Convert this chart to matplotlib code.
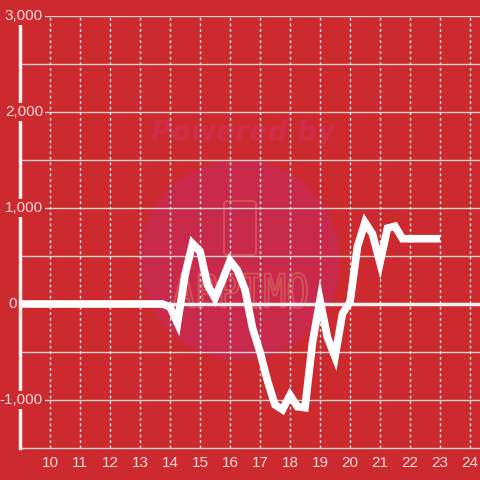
import matplotlib
matplotlib.use("Agg")
import matplotlib.pyplot as plt
from matplotlib.patches import Circle, FancyBboxPatch, PathPatch
from matplotlib.textpath import TextPath
from matplotlib.font_manager import FontProperties
from matplotlib.transforms import Affine2D

# Data
hours = [9.0, 13.75, 14.0, 14.25, 14.5, 14.75, 15.0, 15.25, 15.5, 15.75, 16.0,
         16.25, 16.5, 16.75, 17.0, 17.25, 17.5, 17.75, 18.0, 18.25, 18.5,
         18.75, 19.0, 19.25, 19.5, 19.75, 20.0, 20.25, 20.5, 20.75, 21.0,
         21.25, 21.5, 21.75, 22.0, 23.0]
values = [0, 0, -30, -200, 300, 630, 550, 200, 60, 250, 450,
          350, 150, -250, -500, -800, -1050, -1100, -950, -1070, -1080,
          -400, 40, -350, -550, -100, 20, 600, 850, 730, 430,
          790, 810, 680, 680, 680]
x_ticks = list(range(10, 25))
y_ticks = [-1000, 0, 1000, 2000, 3000]
y_tick_labels = ["-1,000", "0", "1,000", "2,000", "3,000"]
y_grid = [-1000, -500, 0, 500, 1000, 1500, 2000, 2500, 3000]

BG = "#cc2a2f"
TXT = "#f5d8d8"
GRID = "#d2d2d2"
H = 480

plt.rcParams['font.family'] = ['Liberation Sans', 'DejaVu Sans']

fig = plt.figure(figsize=(4.8, 4.8), dpi=100, facecolor=BG)
ax = fig.add_axes([20/480, 32/480, 460/480, 432/480])
ax.set_facecolor(BG)
ax.set_xlim(9, 24 + 1/3)
ax.set_ylim(-1500, 3000)

# watermark (figure coordinates, drawn under the grid)
circ = Circle((240/480, 1 - 260/480), 100/480, transform=fig.transFigure,
              facecolor="#c9294a", edgecolor="none", zorder=0.2, clip_on=False)
ax.add_patch(circ)
ax.text(243/480, 1 - 133/480, "Powered by", color="#d02d48", fontsize=20,
        fontweight="bold", fontstyle="italic", ha="center", va="center",
        family="DejaVu Sans", zorder=0.3, transform=fig.transFigure)
rect = FancyBboxPatch((224/480, 1 - 255/480), 32/480, 54/480,
                      boxstyle="round,pad=0,rounding_size=0.008",
                      transform=fig.transFigure, facecolor="none",
                      edgecolor="#d9605f", lw=1.5, alpha=0.7, zorder=0.3,
                      clip_on=False)
ax.add_patch(rect)
tp = TextPath((0, 0), "APPIMO", size=10, prop=FontProperties(family="DejaVu Sans Mono"))
bb = tp.get_extents()
x0, x1, ytop, ybot = 173, 307, 273, 308
sx = (x1 - x0) / bb.width
sy = (ybot - ytop) / bb.height
tr = Affine2D().translate(-bb.x0, -bb.y0).scale(sx, sy).translate(x0, H - ybot)
ax.add_patch(PathPatch(tp, transform=tr, facecolor="none", edgecolor="#d9605f",
                       lw=1.5, alpha=0.7, zorder=0.3, clip_on=False))

# grid
for gy in y_grid:
    ax.axhline(gy, color=GRID, lw=1, zorder=1)
for gx in x_ticks:
    ax.axvline(gx, color="#e8e8e8", lw=1, ls=(0, (2, 2)), zorder=1)

# zero line
ax.axhline(0, color="#f5f0f0", lw=2.5, zorder=2)

# data line
ax.plot(hours, values, color="white", lw=5.5, solid_joinstyle="miter",
        solid_capstyle="butt", zorder=3)

# spines
for s in ["top", "right"]:
    ax.spines[s].set_visible(False)
ax.spines["left"].set_color("#f5f0f0")
ax.spines["left"].set_linewidth(2.5)
ax.spines["left"].set_zorder(4)
ax.spines["bottom"].set_color(GRID)
ax.spines["bottom"].set_linewidth(1)

ax.set_xticks(x_ticks)
ax.set_xticklabels([str(t) for t in x_ticks])
ax.tick_params(axis="x", length=0, pad=6, labelsize=11, labelcolor=TXT)
ax.set_yticks([])

# y labels drawn over the spine with background box
for v, lab in zip(y_ticks, y_tick_labels):
    if lab == "0":
        ax.text(-3/460, v, lab, transform=ax.get_yaxis_transform(),
                ha="right", va="center", fontsize=11, color=TXT, zorder=5,
                clip_on=False)
    else:
        ax.text(23/460, v, lab, transform=ax.get_yaxis_transform(),
                ha="right", va="center", fontsize=11, color=TXT, zorder=5,
                bbox=dict(facecolor=BG, edgecolor="none", pad=1.5),
                clip_on=False)

fig.savefig("out.png", dpi=100, facecolor=BG)
